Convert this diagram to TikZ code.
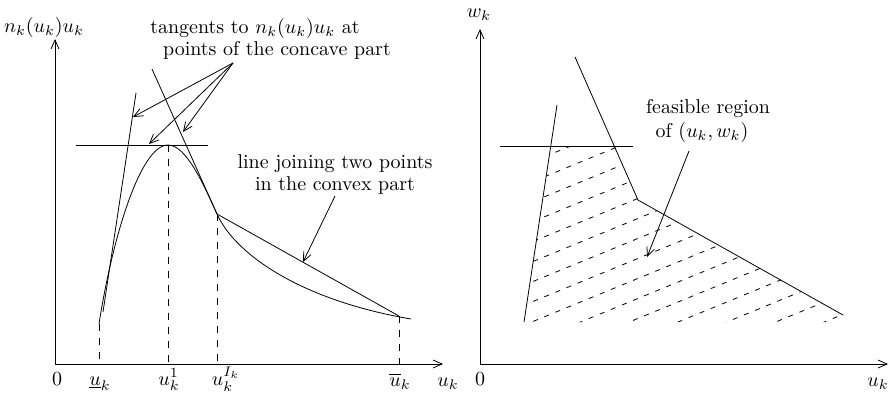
\documentclass[tikz,border=0pt]{standalone}
\usepackage{amsfonts}
\usepackage{amsmath}
\usepackage{amssymb}
\usetikzlibrary{arrows.meta}

\begin{document}
\begin{tikzpicture}[x=0.0176cm,y=-0.0176cm,
	>={Straight Barb[length=4.5pt,width=4pt]},
	guide/.style={dash pattern=on 3.5pt off 3.5pt},
	hatch/.style={dash pattern=on 2.5pt off 3.5pt},
	every node/.style={inner sep=0pt,anchor=base}]
	\useasboundingbox (0,0) rectangle (889,399);

	% left picture
	\coordinate (O1) at (55,364);
	\coordinate (Y1) at (55,39);
	\coordinate (X1) at (443,364);
	\node (ylab1) at (44,32) {$n_k(u_k)u_k$};
	\node (zero1) at (57,385) {$0$};
	\node (xlab1) at (448,386) {$u_k$};

	\coordinate (a) at (99,324);
	\coordinate (b) at (168,145);
	\coordinate (c) at (217,214);
	\coordinate (d) at (399,316);
	\coordinate (e) at (411,319);
	\node (ua) at (100,385) {$\underline{u}_k$};
	\node (ub) at (169,385) {$u_k^1$};
	\node (uc) at (226,385) {$u_k^{I_k}$};
	\node (ud) at (400,386) {$\overline{u}_k$};

	\draw [->] (O1) -- (Y1);
	\draw [->] (O1) -- (X1);
	\draw (a) .. controls (112,240) and (140,145) .. (b)
		.. controls (186,145) and (203,183) .. (c)
		.. controls (235,254) and (300,300) .. (e);
	\draw [guide] (a) -- (a |- O1);
	\draw [guide] (b) -- (b |- O1);
	\draw [guide] (c) -- (c |- O1);
	\draw [guide] (d) -- (d |- O1);

	% tangents and chord
	\coordinate (t1) at (103,312);
	\coordinate (t2) at (136,93);
	\coordinate (h1) at (76,145);
	\coordinate (h2) at (208,145);
	\coordinate (s1) at (152,69);
	\draw (t1) -- (t2);
	\draw (h1) -- (h2);
	\draw (s1) -- (c);
	\draw (c) -- (d);

	\node (tang1) at (255,33) {tangents to $n_k(u_k)u_k$ at};
	\node (tang2) at (277,55) {points of the concave part};
	\coordinate (tf) at (233,63);
	\coordinate (p1) at (133,117);
	\coordinate (p2) at (149,144);
	\coordinate (p3) at (183,132);
	\path [->]
	(tf) edge (p1)
	(tf) edge (p2)
	(tf) edge (p3);

	\node (join1) at (335,168) {line joining two points};
	\node (join2) at (335,190) {in the convex part};
	\coordinate (jf) at (335,196);
	\coordinate (jt) at (303,262);
	\path [->] (jf) edge (jt);

	% right picture
	\coordinate (O2) at (480,364);
	\coordinate (Y2) at (480,29);
	\coordinate (X2) at (888,364);
	\node (ylab2) at (479,17) {$w_k$};
	\node (zero2) at (480,385) {$0$};
	\node (xlab2) at (878,386) {$u_k$};
	\draw [->] (O2) -- (Y2);
	\draw [->] (O2) -- (X2);

	\coordinate (l1) at (524,322);
	\coordinate (l2) at (557,105);
	\coordinate (m1) at (500,146);
	\coordinate (m2) at (633,146);
	\coordinate (r1) at (575,57);
	\coordinate (r2) at (638,200);
	\coordinate (r3) at (843,315);
	\draw (l1) -- (l2);
	\draw (m1) -- (m2);
	\draw (r1) -- (r2) -- (r3);

	\begin{scope}
		\clip (l1) -- (551,146) -- (615,146) -- (r2) -- (r3) -- (850,322) -- cycle;
		\foreach \c in {380,400,...,660}
			\draw [hatch] (500,{\c-0.41*500}) -- (880,{\c-0.41*880});
	\end{scope}

	\node (feas1) at (708,113) {feasible region};
	\node (feas2) at (702,137) {of $(u_k,w_k)$};
	\coordinate (ff) at (689,151);
	\coordinate (ft) at (647,257);
	\path [->] (ff) edge (ft);
\end{tikzpicture}
\end{document}
